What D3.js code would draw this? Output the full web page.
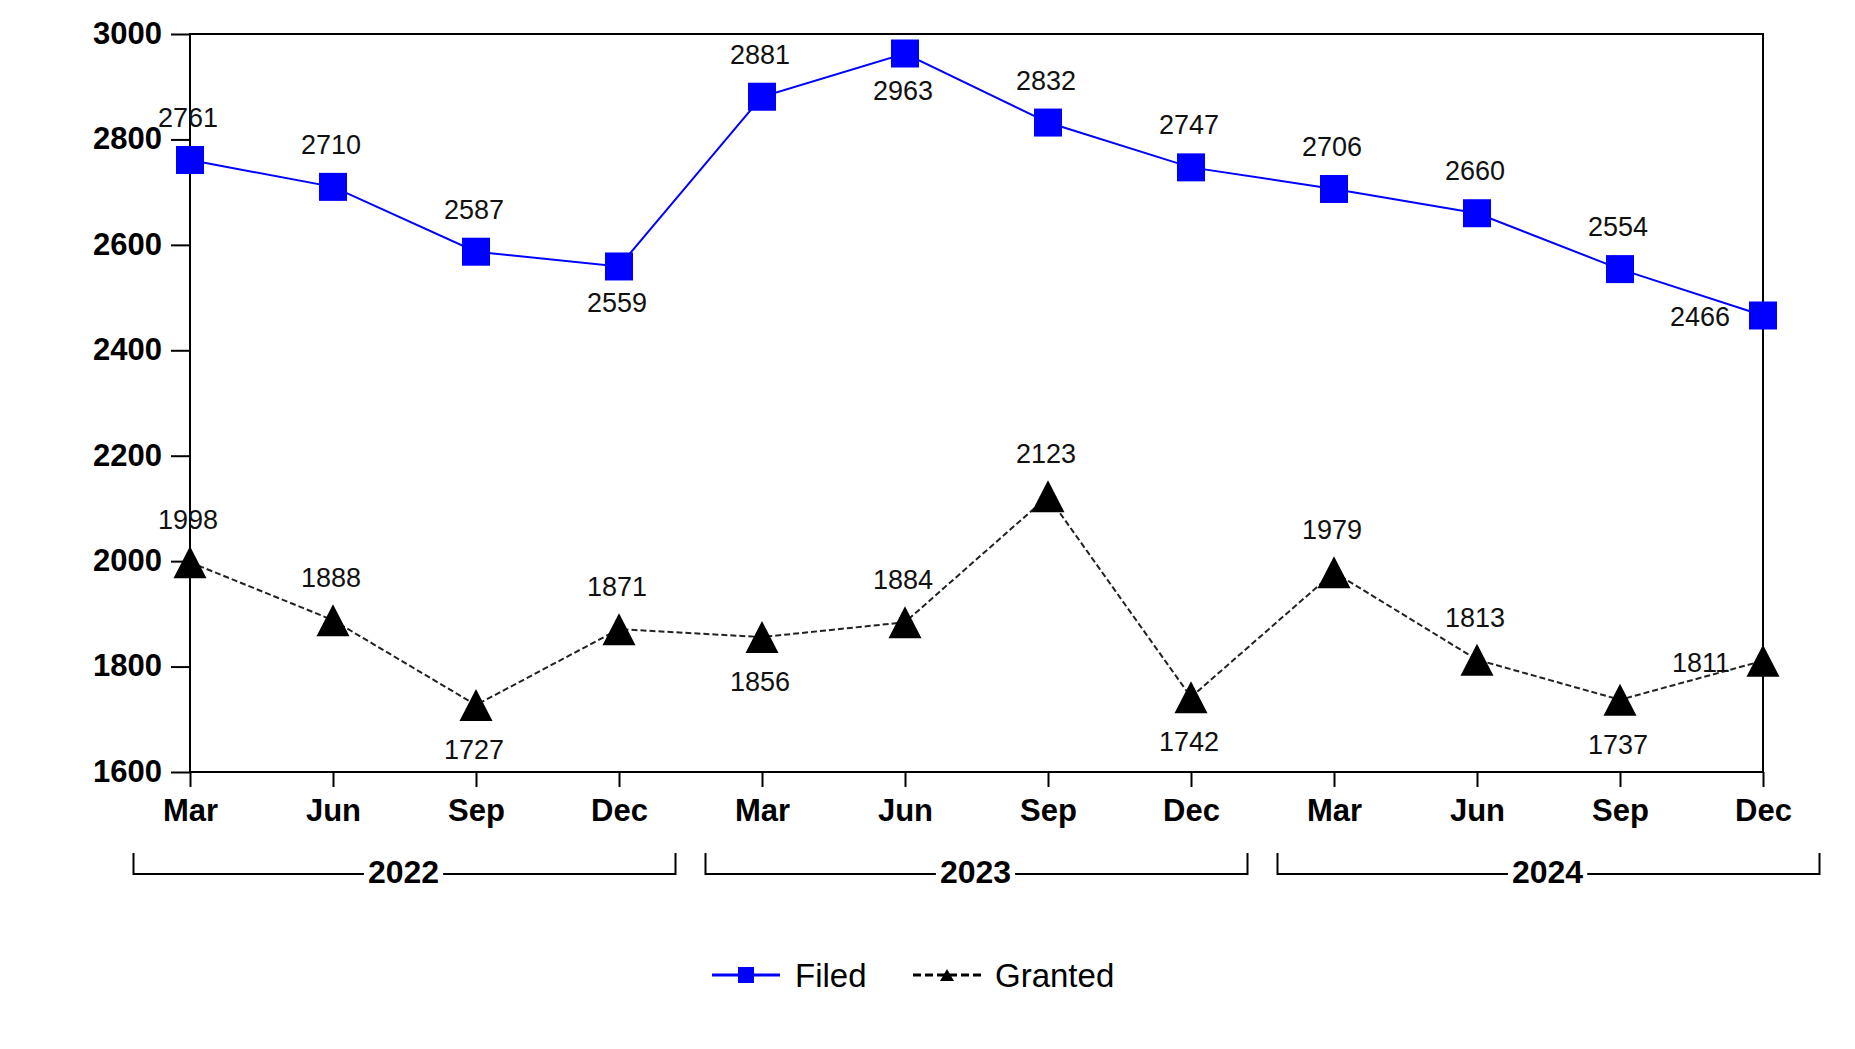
<!DOCTYPE html>
<html>
<head>
<meta charset="utf-8">
<script src="https://cdn.jsdelivr.net/npm/d3@7"></script>
<style>
  html, body { margin: 0; padding: 0; background: #fff; }
  svg { display: block; font-family: "Liberation Sans", Arial, sans-serif; }
</style>
</head>
<body>
<svg id="chart" width="1855" height="1049"></svg>
<script>
// ---- data ----
const years = ["2022", "2023", "2024"];
const months = ["Mar", "Jun", "Sep", "Dec"];
const periods = ["2022-Mar","2022-Jun","2022-Sep","2022-Dec","2023-Mar","2023-Jun","2023-Sep","2023-Dec","2024-Mar","2024-Jun","2024-Sep","2024-Dec"];
const filed = [2761, 2710, 2587, 2559, 2881, 2963, 2832, 2747, 2706, 2660, 2554, 2466];
const granted = [1998, 1888, 1727, 1871, 1856, 1884, 2123, 1742, 1979, 1813, 1737, 1811];
const filedLabelPos = ["t","t","t","b","t","b","t","t","t","t","t","l"];
const grantedLabelPos = ["t","t","b","t","b","t","t","b","t","t","b","l"];
const yTicks = [1600, 1800, 2000, 2200, 2400, 2600, 2800, 3000];
const seriesNames = ["Filed", "Granted"];

// ---- layout ----
const L = 190, R = 1763, T = 34, B = 772;
const svg = d3.select("#chart");

const x = d3.scalePoint().domain(periods).range([L, R]).padding(0);
const y = d3.scaleLinear().domain([1600, 3000]).range([B, T]);
const step = x.step();

// frame
svg.append("rect").attr("x", L).attr("y", T).attr("width", R - L).attr("height", B - T)
  .attr("fill", "none").attr("stroke", "#000").attr("stroke-width", 2);

// y axis
const yAxis = svg.append("g").attr("transform", `translate(${L},0)`)
  .call(d3.axisLeft(y).tickValues(yTicks).tickSize(19).tickPadding(9).tickFormat(d3.format("d")));
yAxis.select(".domain").remove();
yAxis.selectAll("line").attr("stroke", "#000").attr("stroke-width", 2);
yAxis.selectAll("text").attr("font-size", 31).attr("font-weight", "bold").attr("fill", "#000")
  .attr("font-family", "Liberation Sans, Arial, sans-serif").attr("dy", "0.3em");

// x axis
const xAxis = svg.append("g").attr("transform", `translate(0,${B})`)
  .call(d3.axisBottom(x).tickSize(15).tickPadding(12).tickFormat(d => d.split("-")[1]));
xAxis.select(".domain").remove();
xAxis.selectAll("line").attr("stroke", "#000").attr("stroke-width", 2);
xAxis.selectAll("text").attr("font-size", 31).attr("font-weight", "bold").attr("fill", "#000")
  .attr("font-family", "Liberation Sans, Arial, sans-serif");

// year brackets
const gap = 15;
years.forEach((yr, i) => {
  const first = x(yr + "-" + months[0]);
  const last = x(yr + "-" + months[months.length - 1]);
  const x0 = first - step / 2 + gap, x1 = last + step / 2 - gap;
  const ly = 874, top = 853;
  const g = svg.append("g");
  g.append("path").attr("d", `M${x0},${top}V${ly}H${x1}V${top}`)
    .attr("fill", "none").attr("stroke", "#000").attr("stroke-width", 2);
  const cx = (x0 + x1) / 2 - 1;
  const t = g.append("text").attr("x", cx).attr("y", 883).attr("text-anchor", "middle")
    .attr("font-size", 32).attr("font-weight", "bold").attr("fill", "#000").text(yr);
  const bb = t.node().getBBox();
  g.insert("rect", "text").attr("x", bb.x - 4).attr("y", ly - 3).attr("width", bb.width + 8).attr("height", 6).attr("fill", "#fff");
});

// lines
const line = d3.line().x((d, i) => x(periods[i])).y(d => y(d));
svg.append("path").datum(filed).attr("d", line).attr("fill", "none")
  .attr("stroke", "#0000ff").attr("stroke-width", 2);
svg.append("path").datum(granted).attr("d", line).attr("fill", "none")
  .attr("stroke", "#222").attr("stroke-width", 2).attr("stroke-dasharray", "6,3");

// markers
const sq = 28;
svg.append("g").selectAll("rect").data(filed).join("rect")
  .attr("x", (d, i) => x(periods[i]) - sq / 2).attr("y", d => y(d) - sq / 2)
  .attr("width", sq).attr("height", sq).attr("fill", "#0000ff");
const tri = (w, h) => `M0,${-h / 2}L${w / 2},${h / 2}L${-w / 2},${h / 2}Z`;
svg.append("g").selectAll("path").data(granted).join("path")
  .attr("transform", (d, i) => `translate(${x(periods[i])},${y(d)})`)
  .attr("d", tri(33, 32)).attr("fill", "#000");

// data labels
function addLabels(vals, pos, belowOff) {
  svg.append("g").selectAll("text").data(vals).join("text")
    .attr("font-size", 27).attr("fill", "#111")
    .attr("text-anchor", (d, i) => pos[i] === "l" ? "end" : "middle")
    .attr("x", (d, i) => pos[i] === "l" ? x(periods[i]) - 33 : x(periods[i]) - 2)
    .attr("y", (d, i) => pos[i] === "t" ? y(d) - 33 : pos[i] === "b" ? y(d) + belowOff : y(d) + 11)
    .text(d => d);
}
addLabels(filed, filedLabelPos, 46);
addLabels(granted, grantedLabelPos, 54);

// legend
const lg = svg.append("g");
lg.append("line").attr("x1", 712).attr("x2", 780).attr("y1", 975).attr("y2", 975)
  .attr("stroke", "#0000ff").attr("stroke-width", 3);
lg.append("rect").attr("x", 738).attr("y", 967).attr("width", 16).attr("height", 16).attr("fill", "#0000ff");
lg.append("text").attr("x", 795).attr("y", 987).attr("font-size", 33).attr("fill", "#000").text(seriesNames[0]);
lg.append("line").attr("x1", 913).attr("x2", 982).attr("y1", 975).attr("y2", 975)
  .attr("stroke", "#000").attr("stroke-width", 3).attr("stroke-dasharray", "8,4");
lg.append("path").attr("transform", "translate(947,975)").attr("d", tri(14, 12)).attr("fill", "#000");
lg.append("text").attr("x", 995).attr("y", 987).attr("font-size", 33).attr("fill", "#000").text(seriesNames[1]);
</script>
</body>
</html>
